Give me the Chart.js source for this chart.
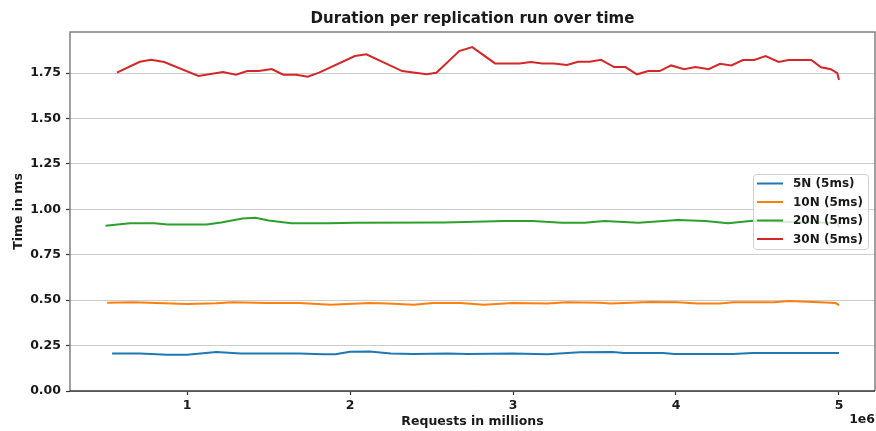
<!DOCTYPE html>
<html>
<head>
<meta charset="utf-8">
<script src="https://cdn.jsdelivr.net/npm/chart.js@4/dist/chart.umd.min.js"></script>
<style>
  html, body { margin: 0; padding: 0; background: #fff; }
  #wrap { width: 876px; height: 431px; }
</style>
</head>
<body>
<div id="wrap"><canvas id="myChart" width="876" height="431"></canvas></div>
<script>
// requests (millions) and duration (ms)
const labels = ['5N (5ms)', '10N (5ms)', '20N (5ms)', '30N (5ms)'];
const colors = ['#1f77b4', '#ff7f0e', '#2ca02c', '#d62728'];

const x5 = [0.54, 0.71, 0.88, 1.00, 1.18, 1.33, 1.69, 1.83, 1.91, 2.00, 2.12, 2.25, 2.39, 2.60, 2.72, 3.00, 3.21, 3.41, 3.61, 3.68, 3.92, 3.99, 4.35, 4.47, 5.00];
const y5 = [0.207, 0.207, 0.200, 0.200, 0.215, 0.207, 0.207, 0.202, 0.202, 0.216, 0.218, 0.207, 0.204, 0.206, 0.204, 0.207, 0.202, 0.213, 0.215, 0.209, 0.209, 0.204, 0.204, 0.209, 0.209];

const x10 = [0.51, 0.67, 1.00, 1.18, 1.28, 1.49, 1.69, 1.88, 2.12, 2.23, 2.39, 2.51, 2.68, 2.82, 3.00, 3.21, 3.33, 3.53, 3.60, 3.84, 4.01, 4.13, 4.27, 4.35, 4.60, 4.69, 4.88, 4.98, 5.00];
const y10 = [0.486, 0.488, 0.479, 0.483, 0.488, 0.484, 0.484, 0.475, 0.484, 0.481, 0.475, 0.484, 0.484, 0.475, 0.484, 0.481, 0.488, 0.486, 0.482, 0.490, 0.488, 0.481, 0.481, 0.488, 0.488, 0.495, 0.488, 0.484, 0.473];

const x20 = [0.50, 0.65, 0.80, 0.88, 1.12, 1.21, 1.34, 1.42, 1.50, 1.64, 1.87, 2.03, 2.58, 2.95, 3.12, 3.30, 3.44, 3.56, 3.77, 4.01, 4.18, 4.32, 4.47, 4.70, 4.99, 5.00];
const y20 = [0.910, 0.923, 0.923, 0.917, 0.917, 0.928, 0.950, 0.954, 0.939, 0.923, 0.923, 0.926, 0.928, 0.936, 0.936, 0.926, 0.926, 0.936, 0.926, 0.941, 0.936, 0.923, 0.937, 0.930, 0.925, 0.900];

const x30 = [0.57, 0.71, 0.78, 0.86, 1.07, 1.22, 1.30, 1.37, 1.44, 1.52, 1.59, 1.67, 1.74, 1.81, 2.03, 2.10, 2.32, 2.47, 2.53, 2.67, 2.75, 2.89, 3.04, 3.11, 3.18, 3.25, 3.33, 3.40, 3.47, 3.54, 3.62, 3.69, 3.76, 3.83, 3.90, 3.97, 4.05, 4.12, 4.20, 4.27, 4.34, 4.41, 4.48, 4.55, 4.63, 4.69, 4.83, 4.89, 4.95, 4.99, 5.00];
const y30 = [1.752, 1.812, 1.823, 1.811, 1.734, 1.756, 1.741, 1.761, 1.761, 1.772, 1.741, 1.741, 1.730, 1.752, 1.844, 1.853, 1.761, 1.743, 1.752, 1.871, 1.893, 1.803, 1.803, 1.811, 1.803, 1.803, 1.794, 1.812, 1.812, 1.823, 1.783, 1.783, 1.743, 1.761, 1.761, 1.792, 1.771, 1.783, 1.771, 1.801, 1.792, 1.822, 1.822, 1.844, 1.811, 1.822, 1.822, 1.782, 1.771, 1.749, 1.712];

const xTicks = [1, 2, 3, 4, 5];
const yTicks = [0, 0.25, 0.5, 0.75, 1.0, 1.25, 1.5, 1.75];

const FONT = 'DejaVu Sans';
const xs = [x5, x10, x20, x30];
const ys = [y5, y10, y20, y30];

const datasets = labels.map((lab, k) => ({
    label: lab,
    data: xs[k].map((x, i) => ({x: x, y: ys[k][i]})),
    borderColor: colors[k],
    backgroundColor: colors[k],
    borderWidth: 2,
    pointRadius: 0,
    tension: 0,
    fill: false
}));

// titles, extra spines, offset text and the legend box
const decor = {
    id: 'decor',
    afterDraw(chart) {
        const ctx = chart.ctx;
        const a = chart.chartArea;
        ctx.save();
        // top / right / left spines
        ctx.strokeStyle = '#808080';
        ctx.lineWidth = 1.5;
        ctx.beginPath();
        ctx.moveTo(a.left, a.bottom);
        ctx.lineTo(a.left, a.top);
        ctx.lineTo(a.right, a.top);
        ctx.lineTo(a.right, a.bottom);
        ctx.stroke();
        ctx.strokeStyle = '#333';
        ctx.beginPath();
        ctx.moveTo(a.left, a.bottom);
        ctx.lineTo(a.right, a.bottom);
        ctx.stroke();

        ctx.fillStyle = '#1a1a1a';
        ctx.textAlign = 'center';
        ctx.textBaseline = 'middle';
        ctx.font = 'bold 15px "' + FONT + '"';
        ctx.fillText('Duration per replication run over time', (a.left + a.right) / 2, 19);
        ctx.font = 'bold 12.5px "' + FONT + '"';
        ctx.fillText('Requests in millions', (a.left + a.right) / 2, 422);
        ctx.textAlign = 'right';
        ctx.fillText('1e6', 875, 420);
        ctx.save();
        ctx.translate(19, (a.top + a.bottom) / 2);
        ctx.rotate(-Math.PI / 2);
        ctx.textAlign = 'center';
        ctx.fillText('Time in ms', 0, 0);
        ctx.restore();

        // legend
        const bx = 753, by = 174, bw = 115, bh = 75, r = 3;
        ctx.fillStyle = 'rgba(255,255,255,0.8)';
        ctx.strokeStyle = '#d0d0d0';
        ctx.lineWidth = 1;
        ctx.beginPath();
        ctx.roundRect(bx + 0.5, by + 0.5, bw, bh, r);
        ctx.fill();
        ctx.stroke();
        ctx.textAlign = 'left';
        ctx.font = 'bold 12px "' + FONT + '"';
        chart.data.datasets.forEach((d, i) => {
            const yy = 183.5 + i * 18.5;
            ctx.strokeStyle = d.borderColor;
            ctx.lineWidth = 2;
            ctx.beginPath();
            ctx.moveTo(757, yy);
            ctx.lineTo(783, yy);
            ctx.stroke();
            ctx.fillStyle = '#1a1a1a';
            ctx.fillText(d.label, 793, yy + 0.5);
        });
        ctx.restore();
    }
};

const config = {
    type: 'line',
    data: {datasets: datasets},
    options: {
        responsive: false,
        animation: false,
        layout: {padding: {top: 32, right: 1, left: 0, bottom: 0}},
        plugins: {
            legend: {display: false},
            title: {display: false},
            tooltip: {enabled: false}
        },
        scales: {
            x: {
                type: 'linear',
                min: 0.282,
                max: 5.221,
                afterFit(s) { s.height = 40; },
                afterBuildTicks(s) { s.ticks = xTicks.map(v => ({value: v})); },
                grid: {drawOnChartArea: false, tickLength: 4, tickColor: '#333', tickWidth: 1.2},
                border: {display: false},
                ticks: {
                    padding: 3,
                    color: '#1a1a1a',
                    font: {family: FONT, size: 12.5, weight: 'bold'},
                    callback: v => String(v)
                }
            },
            y: {
                min: 0,
                max: 1.976,
                afterFit(s) { s.width = 70; },
                afterBuildTicks(s) { s.ticks = yTicks.map(v => ({value: v})); },
                grid: {color: '#cccccc', lineWidth: 1, tickLength: 4, tickColor: '#333', tickWidth: 1.2},
                border: {display: false},
                ticks: {
                    padding: 5,
                    color: '#1a1a1a',
                    font: {family: FONT, size: 12.5, weight: 'bold'},
                    callback: v => Number(v).toFixed(2)
                }
            }
        }
    },
    plugins: [decor]
};

new Chart(document.getElementById('myChart'), config);
</script>
</body>
</html>
